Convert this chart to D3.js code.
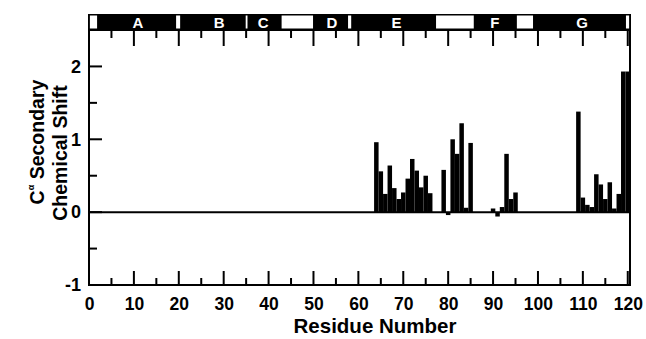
<!DOCTYPE html>
<html><head><meta charset="utf-8">
<script src="https://cdn.jsdelivr.net/npm/d3@7"></script>
<style>body{margin:0;background:#fff}svg{display:block;font-family:"Liberation Sans",Arial,sans-serif;font-weight:bold}</style>
</head><body><svg id="c" width="646" height="339"></svg>
<script>
const residues = [64,65,66,67,68,69,70,71,72,73,74,75,76,79,80,81,82,83,84,85,90,91,92,93,94,95,109,110,111,112,113,114,115,116,117,118,119,120];
const shifts   = [0.96,0.56,0.25,0.64,0.33,0.18,0.27,0.46,0.73,0.57,0.34,0.50,0.26,0.58,-0.04,1.00,0.80,1.22,0.06,0.95,0.05,-0.06,0.07,0.80,0.18,0.27,1.38,0.20,0.10,0.07,0.52,0.38,0.18,0.41,0.05,0.25,1.93,1.93];
const xTicks = [0,10,20,30,40,50,60,70,80,90,100,110,120];
const yTicks = [-1,0,1,2];
const helixNames = ["A","B","C","D","E","F","G"];
const helixCenters = [10.9,29,38.8,54.1,68.5,90.4,109.8];
const loopStart = [0.2,19.4,34.9,42.9,57.7,77.3,95.3,119.6];
const loopEnd   = [1.8,20.3,35.3,49.9,58.4,85.7,98.9,120.3];

const svg = d3.select("#c");
const L=89, R=630, T=30, B=285;
const x = d3.scaleLinear().domain([0,120.5]).range([L,R]);
const y = d3.scaleLinear().domain([-1,2.5]).range([B,T]);

// structure strip
svg.append("rect").attr("x",L-1).attr("y",14).attr("width",R-L+2).attr("height",T-14).attr("fill","#000");
svg.selectAll(".loop").data(loopStart).join("rect")
  .attr("x",(d)=>x(d)).attr("y",15.5).attr("width",(d,i)=>x(loopEnd[i])-x(d)).attr("height",13).attr("fill","#fff");
svg.selectAll(".hl").data(helixNames).join("text")
  .attr("x",(d,i)=>x(helixCenters[i])).attr("y",27.5).attr("text-anchor","middle")
  .attr("fill","#fff").attr("font-size",15).text(d=>d);

// bars
svg.selectAll(".bar").data(residues).join("rect")
  .attr("x",d=>x(d-0.5)).attr("width",d=>x(d+0.5)-x(d-0.5))
  .attr("y",(d,i)=>y(Math.max(0,shifts[i]))).attr("height",(d,i)=>Math.abs(y(shifts[i])-y(0)))
  .attr("fill","#000");

// zero line
svg.append("line").attr("x1",L).attr("x2",R).attr("y1",y(0)).attr("y2",y(0)).attr("stroke","#000").attr("stroke-width",2);

// frame
svg.append("rect").attr("x",L).attr("y",T).attr("width",R-L).attr("height",B-T).attr("fill","none").attr("stroke","#000").attr("stroke-width",2);

// x ticks (inside, bottom and top)
const xMinor = d3.range(0,121,5);
svg.selectAll(".xtb").data(xMinor).join("line")
  .attr("x1",d=>x(d)).attr("x2",d=>x(d)).attr("y1",B).attr("y2",d=>B-(d%10===0?14:7)).attr("stroke","#000").attr("stroke-width",2);
svg.selectAll(".xtt").data(xMinor).join("line")
  .attr("x1",d=>x(d)).attr("x2",d=>x(d)).attr("y1",T).attr("y2",d=>T+(d%10===0?16:8)).attr("stroke","#000").attr("stroke-width",2);
const xa = svg.append("g").attr("transform",`translate(0,${B})`).call(d3.axisBottom(x).tickValues(xTicks).tickSize(0).tickPadding(13));
xa.select(".domain").remove();
xa.selectAll("text").attr("font-size",17.5).attr("font-family","Liberation Sans, Arial").attr("font-weight","bold").attr("fill","#000");

// y ticks
const yMinor = d3.range(-1,2.51,0.5);
svg.selectAll(".yt").data(yMinor).join("line")
  .attr("x1",L).attr("x2",d=>L+(Number.isInteger(d)?13:8)).attr("y1",d=>y(d)).attr("y2",d=>y(d)).attr("stroke","#000").attr("stroke-width",2);
const ya = svg.append("g").attr("transform",`translate(${L},0)`).call(d3.axisLeft(y).tickValues(yTicks).tickSize(0).tickPadding(8).tickFormat(d3.format("d")));
ya.select(".domain").remove();
ya.selectAll("text").attr("font-size",18).attr("font-family","Liberation Sans, Arial").attr("font-weight","bold").attr("fill","#000").text(d=>d<0?"-"+Math.abs(d):d);

// axis titles
svg.append("text").attr("x",375).attr("y",333).attr("text-anchor","middle").attr("font-size",20.5).text("Residue Number");
const yl = svg.append("text").attr("transform","translate(44,142) rotate(-90)").attr("text-anchor","middle").attr("font-size",19.5);
yl.append("tspan").text("C");
yl.append("tspan").attr("font-size",9).attr("dy",-10).text("α");
yl.append("tspan").attr("dy",10).text(" Secondary");
svg.append("text").attr("transform","translate(67,153) rotate(-90)").attr("text-anchor","middle").attr("font-size",19.5).text("Chemical Shift");
</script></body></html>
